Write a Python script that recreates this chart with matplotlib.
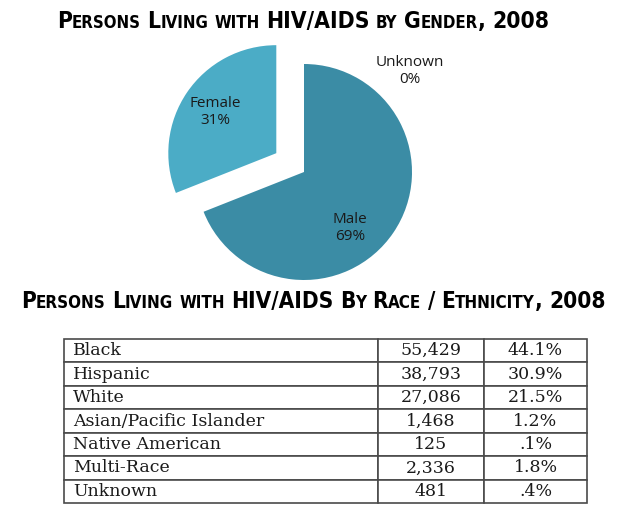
import re
import matplotlib
matplotlib.use("Agg")
import matplotlib.pyplot as plt

# Data
genders = ["Male", "Unknown", "Female"]
gender_pct = [69, 0, 31]
gender_colors = ["#3B8CA5", "#FFFFFF", "#4BACC6"]

races = ["Black", "Hispanic", "White", "Asian/Pacific Islander",
         "Native American", "Multi-Race", "Unknown"]
race_counts = ["55,429", "38,793", "27,086", "1,468", "125", "2,336", "481"]
race_pct = ["44.1%", "30.9%", "21.5%", "1.2%", ".1%", "1.8%", ".4%"]

W, H = 630, 519
fig = plt.figure(figsize=(W / 100, H / 100), dpi=100)
fig.patch.set_facecolor("white")
renderer = fig.canvas.get_renderer()
TITLE_FONT = ["Liberation Sans Narrow", "DejaVu Sans"]


def small_caps(x0, y, s, big, small, width):
    # fake small caps: lowercase runs drawn as smaller capitals,
    # then scaled so the whole line spans `width` pixels
    def draw(scale):
        x = x0
        out = []
        gap = big * scale * 0.28 * 100 / 72
        for word in s.split(" "):
            for run in re.findall(r"[a-z]+|[^a-z]+", word):
                size = (small if run.islower() else big) * scale
                t = fig.text(x / W, 1 - y / H, run.upper(), fontsize=size,
                             fontweight="bold", family=TITLE_FONT,
                             fontstretch="condensed", va="baseline",
                             ha="left", color="black")
                out.append(t)
                x += t.get_window_extent(renderer).width
            x += gap
        return out, x - gap - x0

    texts, w = draw(1.0)
    for t in texts:
        t.remove()
    draw(width / w)


small_caps(57, 28, "Persons Living with HIV/AIDS by Gender, 2008", 17, 12.5, 491)
small_caps(21, 308, "Persons Living with HIV/AIDS By Race / Ethnicity, 2008", 16, 12, 586)

# Pie (axes in pixel units)
ax = fig.add_axes([0, 0, 1, 1])
ax.axis("off")
cx, cy, r = 304, H - 172, 108
wedges, texts = ax.pie(gender_pct, colors=gender_colors, startangle=90,
                       counterclock=False, center=(cx, cy), radius=r,
                       explode=[0, 0, 0.31 * r], labels=None,
                       wedgeprops=dict(linewidth=0))
ax.set_aspect("equal")
ax.set_xlim(0, W)
ax.set_ylim(0, H)

lab_pos = {"Male": (46, -56), "Unknown": (106, 101), "Female": (-89, 60)}
for name, pct in zip(genders, gender_pct):
    dx, dy = lab_pos[name]
    ax.text(cx + dx, cy + dy, f"{name}\n{pct}%", ha="center", va="center",
            fontsize=11, family="Open Sans", color="#1a1a1a", linespacing=1.25)

# Table
tax = fig.add_axes([64 / W, 16 / H, (587 - 64) / W, 164 / H])
tax.axis("off")
cells = [[a, b, c] for a, b, c in zip(races, race_counts, race_pct)]
tbl = tax.table(cellText=cells, bbox=[0, 0, 1, 1],
                colWidths=[314, 106, 103], cellLoc="center")
tbl.auto_set_font_size(False)
for (row, col), cell in tbl.get_celld().items():
    cell.set_edgecolor("#4a4a4a")
    cell.set_linewidth(1.2)
    txt = cell.get_text()
    txt.set_fontsize(12.5)
    txt.set_family("DejaVu Serif")
    txt.set_color("#1a1a1a")
    if col == 0:
        cell.PAD = 0.029
        cell._loc = "left"
        txt.set_ha("left")

fig.savefig("out.png", dpi=100, facecolor="white")
